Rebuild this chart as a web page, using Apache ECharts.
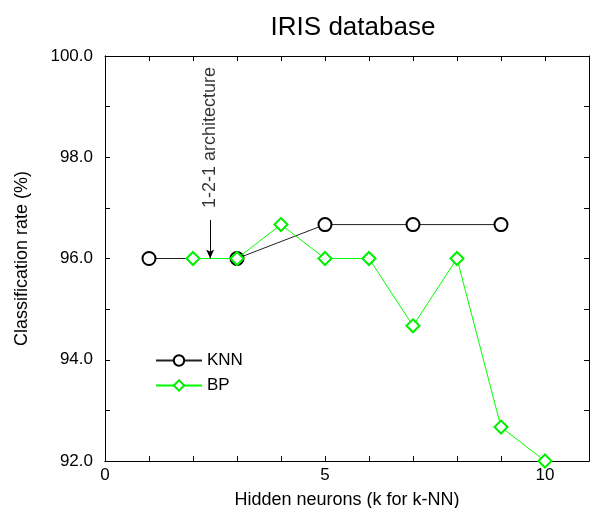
<!DOCTYPE html>
<html>
<head>
<meta charset="utf-8">
<script src="https://cdn.jsdelivr.net/npm/echarts@6/dist/echarts.min.js"></script>
<style>
  html, body { margin: 0; padding: 0; background: #fff; }
  #chart { width: 597px; height: 508px; }
</style>
</head>
<body>
<div id="chart"></div>
<script>
// data
const knnX = [1, 3, 5, 7, 9]
const knnY = [96.0, 96.0, 96.67, 96.67, 96.67]
const bpX = [2, 3, 4, 5, 6, 7, 8, 9, 10]
const bpY = [96.0, 96.0, 96.67, 96.0, 96.0, 94.67, 96.0, 92.67, 92.0]
// annotation "1-2-1 architecture": arrow and text anchor
const arrowX = 2.39
const arrowFrom = 96.76
const arrowTo = 96.0
const noteY = 98.39

const chart = echarts.init(document.getElementById('chart'))
const font = 'Liberation Sans, Arial, sans-serif'

function pairs (xs, ys) {
  return xs.map((x, i) => [x, ys[i]])
}

function line () {
  return { show: true, onZero: false, lineStyle: { color: '#000', width: 1 } }
}
// frame axes: ticks only, no labels (one for each side)
// left/bottom ticks come out pointing outwards with inside:true, so flip them by length
function frameTick (pos) {
  if (pos === 'left' || pos === 'bottom') {
    return { show: true, inside: false, length: -5, lineStyle: { color: '#000', width: 1 } }
  }
  return { show: true, inside: true, length: 5, lineStyle: { color: '#000', width: 1 } }
}
function frameX (pos) {
  return {
    type: 'value', position: pos, min: 0, max: 11, interval: 1,
    axisLine: line(), axisTick: frameTick(pos), splitLine: { show: false }, axisLabel: { show: false }
  }
}
function frameY (pos) {
  return {
    type: 'value', position: pos, min: 92, max: 100, interval: 1,
    axisLine: line(), axisTick: frameTick(pos), splitLine: { show: false }, axisLabel: { show: false }
  }
}

chart.setOption({
  animation: false,
  backgroundColor: '#fff',
  textStyle: { fontFamily: font },
  title: {
    text: 'IRIS database',
    left: 348,
    textAlign: 'center',
    top: 10,
    textStyle: { fontSize: 26, fontWeight: 'normal', color: '#000', fontFamily: font }
  },
  legend: {
    orient: 'vertical',
    left: 150,
    top: 347,
    itemWidth: 46,
    itemHeight: 13,
    itemGap: 8,
    textStyle: { fontSize: 17, color: '#000', fontFamily: font },
    data: ['KNN', 'BP']
  },
  grid: { left: 105, right: 8, top: 56, bottom: 47, containLabel: false, outerBoundsMode: 'none' },
  xAxis: [
    {
      type: 'value',
      position: 'bottom',
      min: 0,
      max: 11,
      interval: 1,
      axisLine: line(),
      axisTick: { show: false },
      splitLine: { show: false },
      name: 'Hidden neurons (k for k-NN)',
      nameLocation: 'middle',
      nameGap: 30,
      nameTextStyle: { fontSize: 18, color: '#000', fontFamily: font },
      axisLabel: {
        color: '#000',
        fontSize: 17,
        margin: 6,
        formatter: v => (v % 5 === 0 ? String(v) : '')
      }
    },
    frameX('top'),
    frameX('bottom')
  ],
  yAxis: [
    {
      type: 'value',
      position: 'left',
      min: 92,
      max: 100,
      interval: 1,
      axisLine: line(),
      axisTick: { show: false },
      splitLine: { show: false },
      name: 'Classification rate (%)',
      nameLocation: 'middle',
      nameGap: 74,
      nameTextStyle: { fontSize: 18, color: '#000', fontFamily: font },
      axisLabel: {
        color: '#000',
        fontSize: 17,
        margin: 12,
        formatter: v => (v % 2 === 0 ? v.toFixed(1) : '')
      }
    },
    frameY('right'),
    frameY('left')
  ],
  series: [
    {
      name: 'KNN',
      type: 'line',
      data: pairs(knnX, knnY),
      symbol: 'emptyCircle',
      symbolSize: 13,
      lineStyle: { color: '#222', width: 1 },
      itemStyle: { color: '#000', borderColor: '#000', borderWidth: 1 },
      z: 2
    },
    {
      name: 'BP',
      type: 'line',
      data: pairs(bpX, bpY),
      symbol: 'emptyDiamond',
      symbolSize: 13,
      lineStyle: { color: '#00ff00', width: 1 },
      itemStyle: { color: '#00ee00', borderColor: '#00ee00', borderWidth: 1 },
      z: 3,
      markLine: {
        silent: true,
        symbol: ['none', 'arrow'],
        symbolSize: [6, 9],
        lineStyle: { color: '#000', width: 1, type: 'solid' },
        label: { show: false },
        data: [[{ coord: [arrowX, arrowFrom] }, { coord: [arrowX, arrowTo] }]]
      }
    },
    {
      name: 'note',
      type: 'scatter',
      data: [[arrowX, noteY]],
      symbolSize: 0,
      silent: true,
      label: {
        show: true,
        position: 'inside',
        rotate: 90,
        formatter: '1-2-1 architecture',
        fontSize: 18,
        color: '#000',
        fontFamily: font
      }
    }
  ]
})
</script>
</body>
</html>
